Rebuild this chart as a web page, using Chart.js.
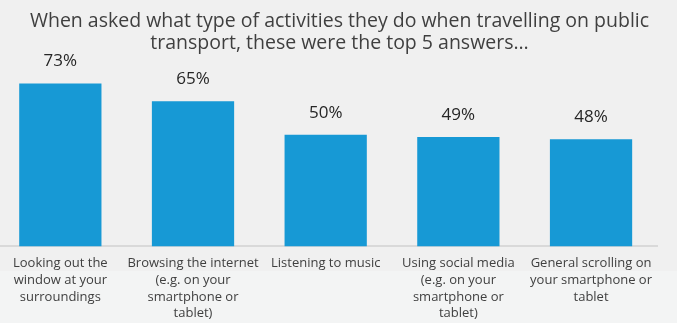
<!DOCTYPE html>
<html>
<head>
<meta charset="utf-8">
<script src="https://cdn.jsdelivr.net/npm/chart.js@4"></script>
<style>
  html, body { margin: 0; padding: 0; }
  body {
    width: 677px; height: 323px; overflow: hidden; position: relative;
    background: linear-gradient(#f0f0f0 0, #f0f0f0 271px, #f3f4f4 271px);
  }
  #wrap { position: absolute; left: -6px; top: 0; width: 667px; height: 331px; }
</style>
</head>
<body>
<div id="wrap"><canvas id="chart"></canvas></div>
<script>
// ── Data ──
const titleLines = [
  "When asked what type of activities they do when travelling on public",
  "transport, these were the top 5 answers…"
];
const categories = [
  ["Looking out the", "window at your", "surroundings"],
  ["Browsing the internet", "(e.g. on your", "smartphone or", "tablet)"],
  ["Listening to music"],
  ["Using social media", "(e.g. on your", "smartphone or", "tablet)"],
  ["General scrolling on", "your smartphone or", "tablet"]
];
const values = [73, 65, 50, 49, 48];

const FONT = "'Open Sans', Lato, sans-serif";

// ── Title (centred on the page, not the plot) + value labels ──
const overlayText = {
  id: "overlayText",
  afterDatasetsDraw(chart) {
    const ctx  = chart.ctx;
    const meta = chart.getDatasetMeta(0);
    ctx.save();

    ctx.font = "19.5px " + FONT;
    ctx.fillStyle = "#3f3f3f";
    ctx.textAlign = "center";
    ctx.textBaseline = "alphabetic";
    ctx.fillText(titleLines[0], 345.5, 27);
    ctx.fillText(titleLines[1], 345.5, 49);

    ctx.font = "17px " + FONT;
    ctx.fillStyle = "#262626";
    ctx.textBaseline = "middle";
    meta.data.forEach((bar, i) => {
      ctx.fillText(values[i] + "%", bar.x, bar.y - 22);
    });
    ctx.restore();
  }
};

new Chart(document.getElementById("chart"), {
  type: "bar",
  data: {
    labels: categories,
    datasets: [{
      data: values,
      backgroundColor: "#1799d5",
      barPercentage: 0.62,
      categoryPercentage: 1
    }]
  },
  options: {
    responsive: true,
    maintainAspectRatio: false,
    animation: false,
    layout: { padding: { top: 56, bottom: 0, left: 0, right: 0 } },
    plugins: {
      legend: { display: false },
      tooltip: { enabled: false },
      title: { display: false }
    },
    scales: {
      x: {
        grid: { display: false, drawTicks: false },
        border: { display: true, color: "#d9d9d9", width: 2 },
        ticks: {
          color: "#404040",
          font: { family: FONT, size: 13, lineHeight: 1.28 },
          padding: 9,
          maxRotation: 0,
          autoSkip: false
        }
      },
      y: {
        display: false,
        min: 0,
        max: 85.3
      }
    }
  },
  plugins: [overlayText]
});
</script>
</body>
</html>
